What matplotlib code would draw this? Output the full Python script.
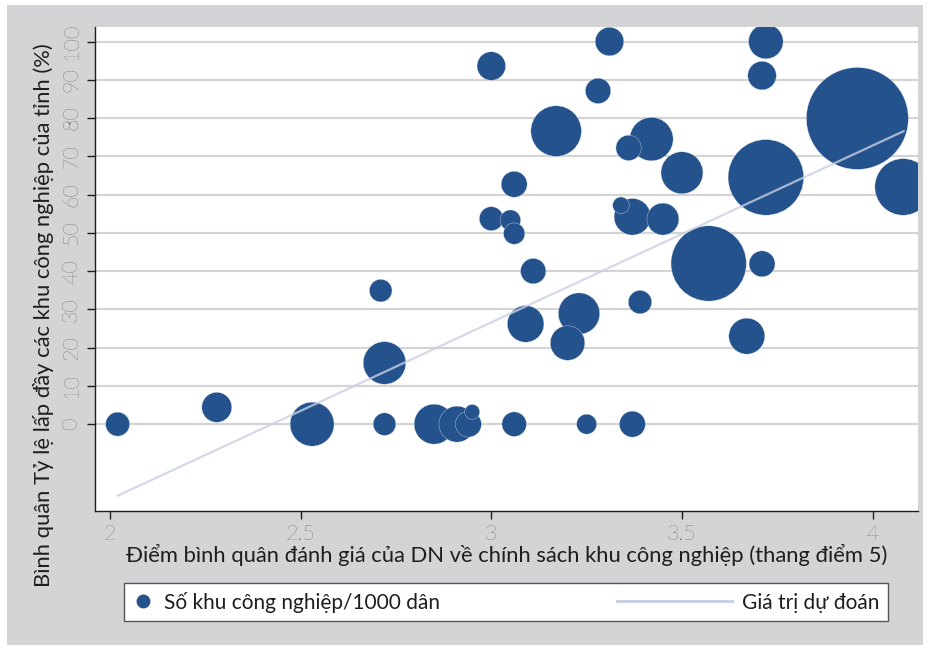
import matplotlib
matplotlib.use("Agg")
import matplotlib.pyplot as plt
from matplotlib.lines import Line2D
from matplotlib.patches import Rectangle
from matplotlib.legend_handler import HandlerLine2D

# diem danh gia chinh sach KCN (x), ty le lap day (y), so KCN/1000 dan (trong so)
diem = [2.02, 2.28, 2.53, 2.71, 2.72, 2.72, 2.85, 2.91, 2.94, 2.95,
        3.06, 3.25, 3.37, 3.00, 3.31, 3.28, 3.17, 3.42, 3.36, 3.50,
        3.06, 3.00, 3.05, 3.06, 3.37, 3.34, 3.45, 3.72, 3.71, 3.96,
        3.72, 4.08, 3.57, 3.71, 3.67, 3.11, 3.39, 3.09, 3.23, 3.20]
lap_day = [0, 4.4, 0, 34.9, 16.0, 0, 0, 0, 0, 3.2,
           0, 0, 0, 93.6, 100, 87.1, 76.6, 74.5, 72.2, 65.7,
           62.7, 53.7, 53.3, 49.8, 54.2, 57.2, 53.6, 100, 91.1, 79.9,
           64.5, 62.0, 42.0, 41.9, 23.0, 40.0, 31.9, 26.2, 28.9, 21.2]
trong_so = [1.44, 2.25, 4.84, 1.28, 4.54, 1.28, 4.0, 3.24, 1.69, 0.56,
            1.51, 1.0, 1.69, 2.04, 2.04, 1.61, 6.4, 4.71, 1.61, 4.41,
            1.69, 1.44, 1.06, 1.14, 3.35, 0.69, 2.56, 2.99, 2.04, 26.0,
            14.3, 8.0, 14.2, 1.69, 3.24, 1.61, 1.37, 3.35, 4.28, 2.99]

# duong gia tri du doan (hai dau mut)
du_doan_x = [2.018, 4.084]
du_doan_y = [-18.8, 76.7]

x_ticks = [2, 2.5, 3, 3.5, 4]
x_tick_labels = ["2", "2.5", "3", "3.5", "4"]
y_ticks = [0, 10, 20, 30, 40, 50, 60, 70, 80, 90, 100]

xlabel = "Điểm bình quân đánh giá của DN về chính sách khu công nghiệp (thang điểm 5)"
ylabel = "Bình quân Tỷ lệ lấp đầy các khu công nghiệp của tỉnh (%)"
leg_labels = ["Số khu công nghiệp/1000 dân", "Giá trị dự đoán"]

plt.rcParams['font.family'] = ['Lato', 'DejaVu Sans']

BLUE = "#24528d"
LINE = "#c9d0e3"
GREY = "#d3d4d6"
INK = "#1e1e1e"

fig = plt.figure(figsize=(9.29, 6.48), dpi=100, facecolor="white")
fig.patches.append(Rectangle((7 / 929, 3 / 648), 916 / 929, 640 / 648,
                             transform=fig.transFigure, facecolor=GREY,
                             edgecolor="none", zorder=-10))

ax = fig.add_axes([95 / 929, 1 - 511 / 648, 823 / 929, 484 / 648])
ax.set_facecolor("white")

ax.scatter(diem, lap_day, s=[w * 207 for w in trong_so], color=BLUE,
           edgecolors="#dfe5ef", linewidths=0.25, zorder=3)
ax.plot(du_doan_x, du_doan_y, color=LINE, lw=1.6, alpha=0.8, zorder=4,
        solid_capstyle="butt")

ax.set_xlim(1.9607, 4.119)
ax.set_ylim(-22.7, 103.8)

ax.set_xticks(x_ticks)
ax.set_xticklabels(x_tick_labels)
ax.set_yticks(y_ticks)
ax.set_yticklabels([str(v) for v in y_ticks], rotation=90, va="center")
ax.tick_params(axis="both", length=6, width=1, color=INK,
               labelsize=15.5, labelcolor="#333333")
ax.tick_params(axis="y", pad=4)
for lab in ax.get_xticklabels() + ax.get_yticklabels():
    lab.set_fontweight("light")

ax.grid(axis="y", color="#d4d4d4", lw=1.6, zorder=0)
ax.set_axisbelow(True)
for side in ["top", "right"]:
    ax.spines[side].set_visible(False)
for side in ["left", "bottom"]:
    ax.spines[side].set_color(INK)
    ax.spines[side].set_linewidth(1.0)

ax.set_xlabel(xlabel, fontsize=15.8, color=INK, labelpad=0)
ax.set_ylabel(ylabel, fontsize=15.8, color=INK)
ax.yaxis.set_label_coords(-0.05, 0.405)


class LongLine(HandlerLine2D):
    def create_artists(self, legend, orig_handle, xdescent, ydescent,
                       width, height, fontsize, trans):
        return super().create_artists(legend, orig_handle, xdescent + 4.5 * width,
                                      ydescent, 5.5 * width, height, fontsize, trans)


h_dot = Line2D([], [], ls="none", marker="o", ms=9, color=BLUE)
h_line = Line2D([], [], color=LINE, lw=2.2)
leg = fig.legend([h_dot, h_line], leg_labels, ncol=2, mode="expand",
                 loc="lower left",
                 bbox_to_anchor=(124 / 929, 1 - 621 / 648, 764 / 929, 42 / 648),
                 fontsize=15, handlelength=1.0, handletextpad=0.5,
                 borderaxespad=0, fancybox=False, framealpha=1,
                 edgecolor="#555555", facecolor="white",
                 handler_map={h_line: LongLine()})
leg.get_frame().set_linewidth(1.0)
for t in leg.get_texts():
    t.set_color(INK)

fig.savefig("out.png", dpi=100, facecolor=fig.get_facecolor())
